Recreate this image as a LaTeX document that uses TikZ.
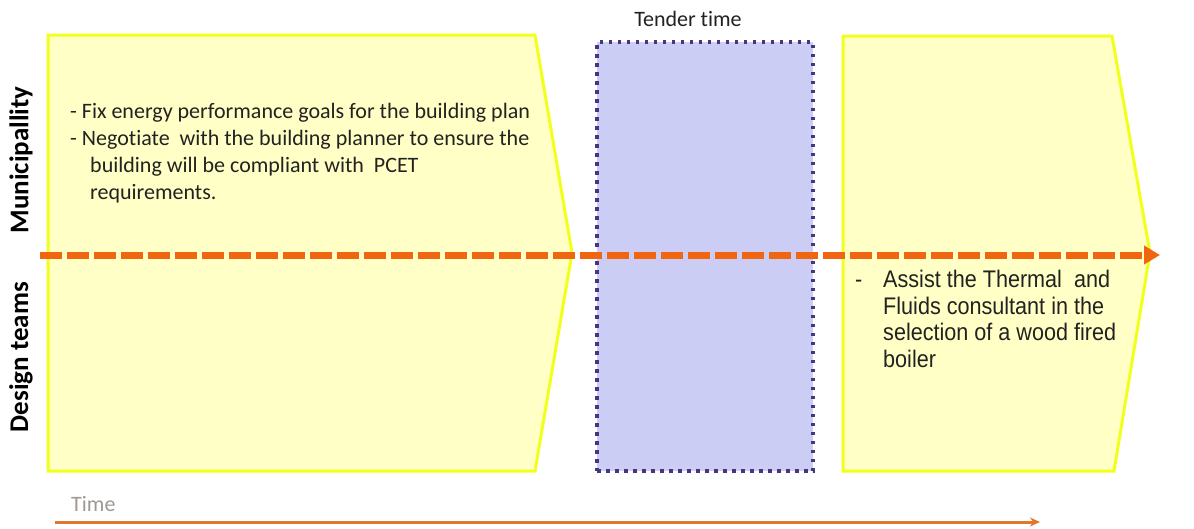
\documentclass[tikz,border=0pt]{standalone}
\usepackage{fontspec}
\setmainfont[Ligatures=NoCommon]{Carlito}
\newfontfamily\arialn[FakeStretch=0.9]{Liberation Sans}
\usetikzlibrary{arrows.meta}
\definecolor{boxfill}{HTML}{FFFFC6}
\definecolor{boxline}{HTML}{F2FF1A}
\definecolor{tenderfill}{HTML}{CCCDF4}
\definecolor{tenderline}{HTML}{46367F}
\definecolor{dashorange}{HTML}{F0650F}
\definecolor{timeline}{HTML}{E2772C}
\definecolor{timetext}{HTML}{A09890}
\definecolor{txt}{HTML}{222222}
\begin{document}
\begin{tikzpicture}[x=1pt,y=-1pt,
  phase/.style={draw=boxline, fill=boxfill, line width=3pt, line join=miter},
  tenderbox/.style={draw=tenderline, fill=tenderfill, line width=3.5pt, dash pattern=on 3.5pt off 5.5pt, rectangle, inner sep=0pt},
  lane/.style={rotate=90, font=\bfseries\fontsize{27}{30}\selectfont, text=black},
  bodytext/.style={anchor=north west, inner sep=0pt, align=left, text=txt},
  rightfont/.style={font=\arialn\fontsize{24}{26.5}\selectfont}]
\useasboundingbox (0,0) rectangle (1194,528);
\fill[white] (0,0) rectangle (1194,528);
% phase boxes
\draw[phase] (48,35) -- (535,35) -- (572,253) -- (535,471) -- (48,471) -- cycle;
\draw[phase] (843,36) -- (1112,36) -- (1150,253) -- (1114,471) -- (843,471) -- cycle;
% tender box
\node[tenderbox, minimum width=216pt, minimum height=429pt] (tender) at (705,256.5) {};
\node[font=\fontsize{22}{24}\selectfont, text=txt] (tlabel) at (688,19) {Tender time};
% lanes
\node[lane] (muni) at (21,160) {Municipallity};
\node[lane] (design) at (21,357) {Design teams};
% dashed timeline
\coordinate (dstart) at (40,255);
\coordinate (dend) at (1160,255);
\draw[dashorange, line width=7pt, dash pattern=on 22pt off 5pt, -{Triangle[length=16pt,width=18pt]}] (dstart) -- (dend);
% texts
\node[bodytext, font=\fontsize{22}{27}\selectfont] (mtext) at (70,103) {- Fix energy performance goals for the building plan\\- Negotiate\ \ with the building planner to ensure the\\\hspace*{20pt}building will be compliant with\ \ PCET\\\hspace*{20pt}requirements.};
\node[bodytext, rightfont] (ddash) at (855,270) {\vphantom{Ah}-};
\node[bodytext, rightfont] (dtext) at (883,270) {Assist the Thermal\ \ and\\Fluids consultant in the\\selection of a wood fired\\boiler};
% time arrow
\coordinate (tstart) at (55,522);
\coordinate (tend) at (1040,522);
\draw[timeline, line width=3pt, -{Stealth[length=10pt,width=9pt]}] (tstart) -- (tend);
\node[anchor=west, inner sep=0pt, font=\fontsize{22}{24}\selectfont, text=timetext] (time) at (71,504) {Time};
\end{tikzpicture}
\end{document}
